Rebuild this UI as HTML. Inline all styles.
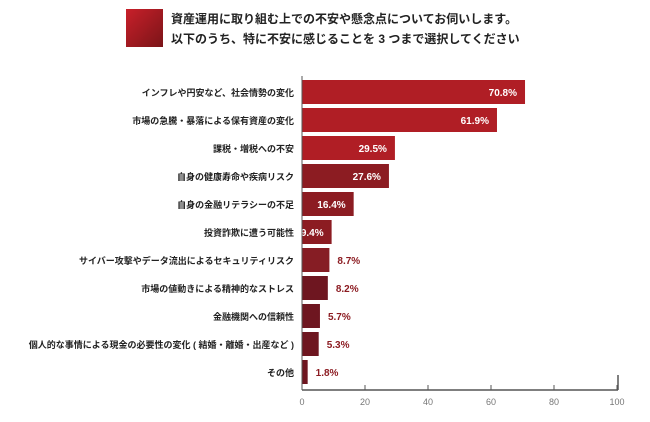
<!DOCTYPE html>
<html><head><meta charset="utf-8"><style>
body{margin:0;background:#fff;width:650px;height:417px;overflow:hidden;font-family:"Liberation Sans","Noto Sans CJK JP",sans-serif;}
svg text{font-family:"Liberation Sans","Noto Sans CJK JP",sans-serif;}
</style></head><body>
<svg width="650" height="417" viewBox="0 0 650 417" xmlns="http://www.w3.org/2000/svg">
<defs><linearGradient id="g" x1="0" y1="0" x2="1" y2="1"><stop offset="0" stop-color="#c8202a"/><stop offset="1" stop-color="#7a1418"/></linearGradient></defs>
<rect x="126" y="9" width="37" height="38" fill="url(#g)"/>
<text x="171" y="23" font-size="12" font-weight="bold" fill="#222">資産運用に取り組む上での不安や懸念点についてお伺いします。</text>
<text x="171" y="43" font-size="12" font-weight="bold" fill="#222">以下のうち、特に不安に感じることを 3 つまで選択してください</text>
<g id="plot"></g>
</svg>
<script>
const categories=["インフレや円安など、社会情勢の変化","市場の急騰・暴落による保有資産の変化","課税・増税への不安","自身の健康寿命や疾病リスク","自身の金融リテラシーの不足","投資詐欺に遭う可能性","サイバー攻撃やデータ流出によるセキュリティリスク","市場の値動きによる精神的なストレス","金融機関への信頼性","個人的な事情による現金の必要性の変化 ( 結婚・離婚・出産など )","その他"];
const values=[70.8,61.9,29.5,27.6,16.4,9.4,8.7,8.2,5.7,5.3,1.8];
const ticks=[0,20,40,60,80,100];
const colors=["#b01e25","#b01e25","#b01e25","#8c1c22","#8c1c22","#8c1c22","#861d24","#6e1620","#6e1620","#6e1620","#6e1620"];
const NS="http://www.w3.org/2000/svg";
const g=document.getElementById('plot');
const x0=302,x1=617,topY=78,pitch=28,bh=24,axisY=390;
const xs=v=>x0+(x1-x0)*v/100;
const ys=i=>topY+i*pitch;
function mk(t,a){const e=document.createElementNS(NS,t);for(const k in a)e.setAttribute(k,a[k]);g.appendChild(e);return e;}
categories.forEach((c,i)=>{
 const y=ys(i);
 const r=mk('rect',{x:x0,y:y+2,width:xs(values[i])-x0,height:bh,fill:colors[i]});
 
 
 const l=mk('text',{x:294,y:y+18,'font-size':9,'font-weight':'bold','text-anchor':'end',fill:'#222'});
 l.textContent=c;
 
 
 const inside=values[i]>=9;
 const v=mk('text',{x:inside?xs(values[i])-8:xs(values[i])+8,y:y+18,'font-size':10,'font-weight':'bold','text-anchor':inside?'end':'start',fill:inside?'#fff':'#8c1c22'});
 v.textContent=values[i].toFixed(1)+'%';
 
 
});
const ax=mk('line',{x1:x0,y1:axisY,x2:x1+1,y2:axisY,stroke:'#555','stroke-width':1.5});


const ay=mk('line',{x1:x0,y1:76,x2:x0,y2:axisY,stroke:'#555','stroke-width':1});


const ae=mk('line',{x1:x1+1,y1:375,x2:x1+1,y2:axisY,stroke:'#555','stroke-width':1.5});


ticks.forEach(t=>{
 const tk=mk('line',{x1:xs(t),y1:axisY-5,x2:xs(t),y2:axisY,stroke:'#555'});
 
 
 const tl=mk('text',{x:xs(t),y:405,'font-size':9,'text-anchor':'middle',fill:'#777'});
 tl.textContent=t;
 
 
});
</script>
</body></html>
